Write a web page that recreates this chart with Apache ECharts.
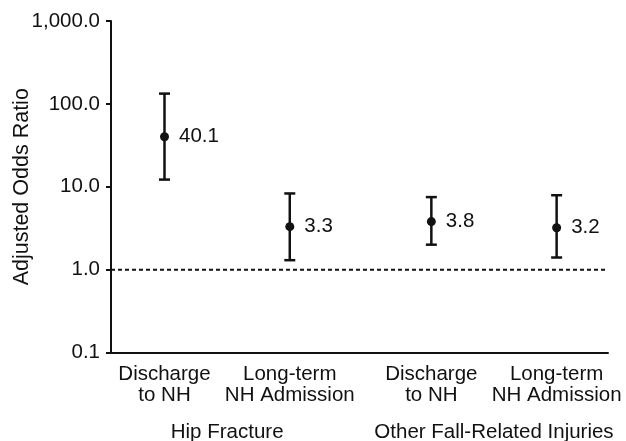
<!DOCTYPE html>
<html>
<head>
<meta charset="utf-8">
<script src="https://cdn.jsdelivr.net/npm/echarts@6/dist/echarts.min.js"></script>
<style>html,body{margin:0;padding:0;background:#fff}#c{width:626px;height:441px}</style>
</head>
<body>
<div id="c"></div>
<script>
const categories = ['Discharge\nto NH', 'Long-term\nNH Admission', 'Discharge\nto NH', 'Long-term\nNH Admission'];
const groups = ['Hip Fracture', 'Other Fall-Related Injuries'];
const groupOf = [0, 0, 1, 1];
const oddsRatio = [40.1, 3.3, 3.8, 3.2];
const ciLower = [12.2, 1.3, 2.0, 1.4];
const ciUpper = [133, 8.3, 7.5, 7.9];
const yTicks = [0.1, 1, 10, 100, 1000];
const referenceLine = 1.0;

// layout: items within a group are 1 unit apart, groups separated by extra gap
const groupGap = 0.13;
const xPos = categories.map((c, i) => i + groupOf[i] * groupGap);
const groupCenters = groups.map((g, gi) => {
  const xs = xPos.filter((x, i) => groupOf[i] === gi);
  return (xs[0] + xs[xs.length - 1]) / 2;
});

const FONT = 'Liberation Sans, Arial, sans-serif';
const TXT = '#111';
const FS = 20.5;
const chart = echarts.init(document.getElementById('c'));

function fmt(v) {
  return Number(v).toLocaleString('en-US', {minimumFractionDigits: 1, maximumFractionDigits: 1});
}
function nearestIdx(arr, v) {
  let b = 0;
  arr.forEach((x, i) => { if (Math.abs(x - v) < Math.abs(arr[b] - v)) b = i; });
  return b;
}

chart.setOption({
  animation: false,
  grid: {left: 111, right: 18, top: 21, bottom: 88.5, containLabel: false, outerBoundsMode: 'none'},
  xAxis: [{
    type: 'value', min: -0.427, max: 3.54,
    axisLine: {show: true, onZero: false, lineStyle: {color: '#111', width: 2}},
    axisTick: {show: false},
    splitLine: {show: false},
    axisLabel: {
      customValues: xPos,
      margin: 11,
      color: TXT, fontFamily: FONT, fontSize: FS, lineHeight: 21,
      formatter: v => categories[nearestIdx(xPos, v)]
    }
  }, {
    type: 'value', min: -0.427, max: 3.54, position: 'bottom',
    axisLine: {show: false}, axisTick: {show: false}, splitLine: {show: false},
    axisLabel: {
      customValues: groupCenters,
      margin: 69,
      color: TXT, fontFamily: FONT, fontSize: FS,
      formatter: v => groups[nearestIdx(groupCenters, v)]
    }
  }],
  yAxis: {
    type: 'log', logBase: 10, min: yTicks[0], max: yTicks[yTicks.length - 1],
    name: 'Adjusted Odds Ratio', nameLocation: 'middle', nameGap: 78, nameMoveOverlap: false,
    nameTextStyle: {color: TXT, fontFamily: FONT, fontSize: 21.5},
    axisLine: {show: true, onZero: false, lineStyle: {color: '#111', width: 2}},
    axisTick: {show: true, length: 5, lineStyle: {color: '#111', width: 2}},
    minorTick: {show: false},
    splitLine: {show: false},
    axisLabel: {
      margin: 11, color: TXT, fontFamily: FONT, fontSize: FS,
      formatter: v => fmt(v)
    }
  },
  series: [{
    type: 'line',
    data: [[-0.427, referenceLine], [3.54, referenceLine]],
    symbol: 'none',
    lineStyle: {color: '#111', width: 2, type: [4, 3]},
    silent: true
  }, {
    type: 'custom',
    data: xPos.map((x, i) => [x, ciLower[i], ciUpper[i]]),
    renderItem: function (params, api) {
      const lo = api.coord([api.value(0), api.value(1)]);
      const hi = api.coord([api.value(0), api.value(2)]);
      const hw = 5.5;
      const st = {stroke: '#111', lineWidth: 2.5};
      return {type: 'group', children: [
        {type: 'line', shape: {x1: lo[0], y1: lo[1], x2: hi[0], y2: hi[1]}, style: st},
        {type: 'line', shape: {x1: lo[0] - hw, y1: lo[1], x2: lo[0] + hw, y2: lo[1]}, style: st},
        {type: 'line', shape: {x1: hi[0] - hw, y1: hi[1], x2: hi[0] + hw, y2: hi[1]}, style: st}
      ]};
    },
    z: 3
  }, {
    type: 'scatter',
    data: xPos.map((x, i) => [x, oddsRatio[i]]),
    symbol: 'circle', symbolSize: 9,
    itemStyle: {color: '#111', opacity: 1},
    label: {
      show: true, position: 'right', distance: 10,
      color: TXT, fontFamily: FONT, fontSize: FS, opacity: 1,
      formatter: p => fmt(p.value[1])
    },
    z: 4
  }]
});
</script>
</body>
</html>
